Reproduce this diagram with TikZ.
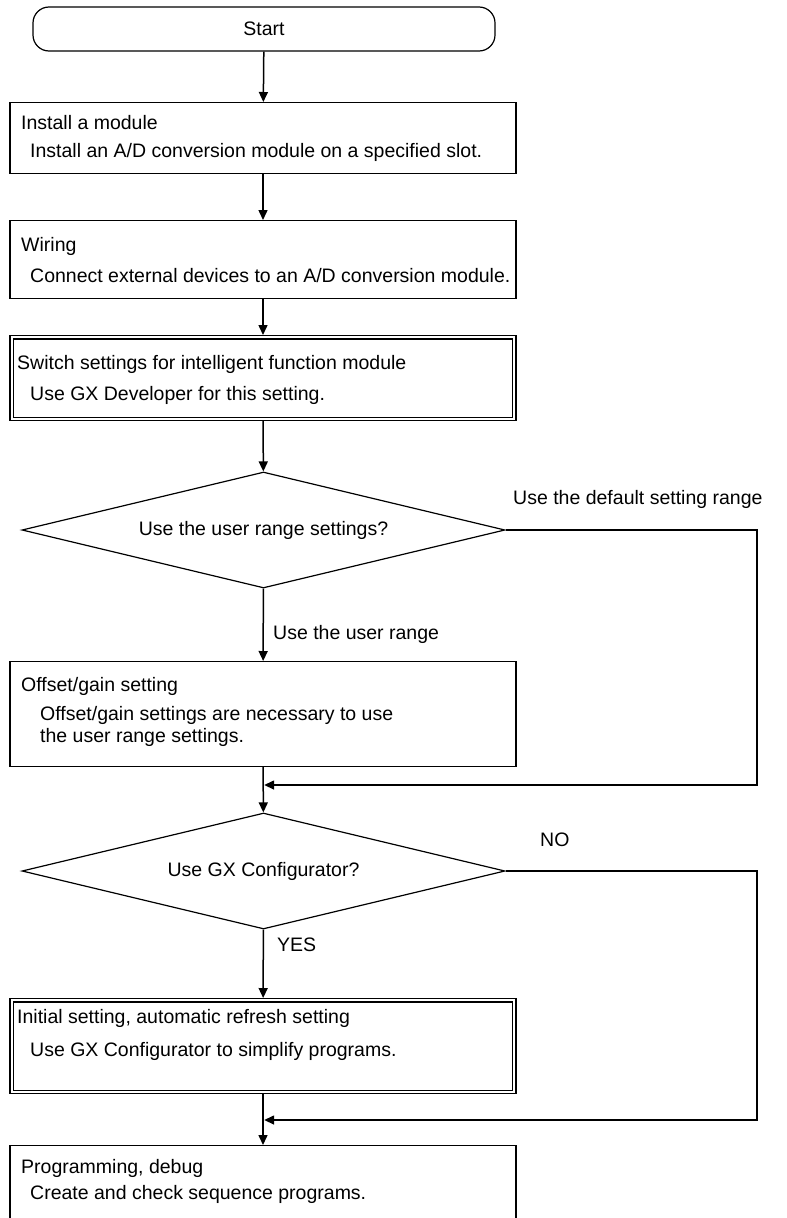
\documentclass[tikz,border=0pt]{standalone}
\usepackage{fontspec}
\setmainfont{Liberation Sans}
\usetikzlibrary{arrows.meta,shapes.geometric}

\tikzset{
  every node/.style={font=\fontsize{19.5}{23}\selectfont, inner sep=0pt},
  flow/.style={line width=1.5pt, -{Triangle[length=10pt,width=9pt]}},
  terminal/.style={draw, line width=1.2pt, rounded corners=16pt,
    minimum width=462pt, minimum height=44pt},
  stepbox/.style={draw, line width=1.2pt, minimum width=506pt, anchor=north},
  inner frame/.style={line width=1.2pt},
  decision/.style={draw, diamond, line width=1.2pt, aspect=4.16,
    minimum width=483pt, minimum height=116pt},
  title/.style={anchor=base west},
  note/.style={anchor=base west},
}

\begin{document}
\begin{tikzpicture}[x=1pt,y=-1pt]
\clip (0,0) rectangle (787,1218);
\fill[white] (0,0) rectangle (787,1218);

% Start terminal
\node[terminal] (start) at (264,29) {Start};

% Install a module
\node[stepbox, minimum height=71pt] (install) at (263,102) {};
\node[title] (installT) at (21,129) {Install a module};
\node[note] (installN) at (30,157) {Install an A/D conversion module on a specified slot.};

% Wiring
\node[stepbox, minimum height=78pt] (wiring) at (263,220) {};
\node[title] (wiringT) at (21,251) {Wiring};
\node[note] (wiringN) at (30,282) {Connect external devices to an A/D conversion module.};

% Switch settings (double frame)
\node[stepbox, minimum height=85pt] (switch) at (263,335) {};
\draw[inner frame] ([shift={(4,4)}]switch.north west) rectangle ([shift={(-4,-4)}]switch.south east);
\node[title] (switchT) at (17,369) {Switch settings for intelligent function module};
\node[note] (switchN) at (30,400) {Use GX Developer for this setting.};

% Decision: user range
\node[decision] (d1) at (263.5,530) {Use the user range settings?};
\node[note] (d1R) at (513,504) {Use the default setting range};
\node[note] (d1D) at (273,639) {Use the user range};

% Offset/gain setting
\node[stepbox, minimum height=105pt] (offset) at (263,661) {};
\node[title] (offsetT) at (21,691) {Offset/gain setting};
\node[note] (offsetN1) at (40,720) {Offset/gain settings are necessary to use};
\node[note] (offsetN2) at (40,742) {the user range settings.};

% Decision: GX Configurator
\node[decision] (d2) at (263.5,871) {Use GX Configurator?};
\node[note] (d2R) at (540,846) {NO};
\node[note] (d2D) at (277,951) {YES};

% Initial setting (double frame)
\node[stepbox, minimum height=95pt] (initial) at (263,998) {};
\draw[inner frame] ([shift={(4,4)}]initial.north west) rectangle ([shift={(-4,-4)}]initial.south east);
\node[title] (initialT) at (17,1023) {Initial setting, automatic refresh setting};
\node[note] (initialN) at (30,1056) {Use GX Configurator to simplify programs.};

% Programming, debug
\node[stepbox, minimum height=120pt] (prog) at (263,1145) {};
\node[title] (progT) at (21,1173) {Programming, debug};
\node[note] (progN) at (30,1199) {Create and check sequence programs.};

% Junction points of the bypass lines
\coordinate (m1) at (264.2,785);
\coordinate (m2) at (264.2,1120);
\coordinate (r1) at (757,530);
\coordinate (r2) at (757,871);

% Main flow
\draw[flow] (start) -- (install);
\draw[flow] (install) -- (wiring);
\draw[flow] (wiring) -- (switch);
\draw[flow] (switch) -- (d1);
\draw[flow] (d1) -- (offset);
\draw[flow] (offset) -- (d2);
\draw[flow] (d2) -- (initial);
\draw[flow] (initial) -- (prog);

% Bypass branches
\draw[flow] (d1.east) -- (r1) |- (m1);
\draw[flow] (d2.east) -- (r2) |- (m2);
\end{tikzpicture}
\end{document}
